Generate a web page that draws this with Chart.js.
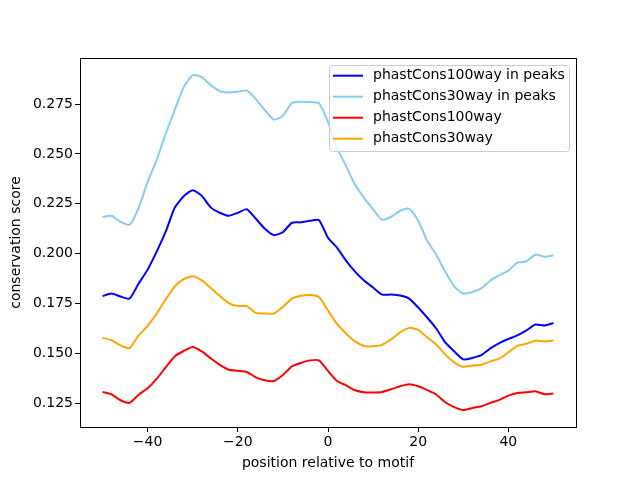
<!DOCTYPE html>
<html>
<head>
<meta charset="utf-8">
<script src="https://cdn.jsdelivr.net/npm/chart.js@4/dist/chart.umd.min.js"></script>
<style>
html,body{margin:0;padding:0;background:#fff;}
#wrap{width:640px;height:480px;}
</style>
</head>
<body>
<div id="wrap"><canvas id="c" width="640" height="480"></canvas></div>
<script>
const positions = [-50,-48,-46,-44,-42,-40,-38,-36,-34,-32,-30,-28,-26,-24,-22,-20,-18,-16,-14,-12,-10,-8,-6,-4,-2,0,2,4,6,8,10,12,14,16,18,20,22,24,26,28,30,32,34,36,38,40,42,44,46,48,50];
const xTicks = [-40,-20,0,20,40];
const yTicks = [0.125,0.150,0.175,0.200,0.225,0.250,0.275];
const seriesNames = ['phastCons100way in peaks','phastCons30way in peaks','phastCons100way','phastCons30way'];
const seriesColors = ['#0000ff','#87ceeb','#ff0000','#ffa500'];

const cons100Peaks = [0.1787,0.1800,0.1785,0.1775,0.1850,0.1920,0.2010,0.2110,0.2230,0.2288,0.2318,0.2290,0.2232,0.2205,0.2190,0.2205,0.2223,0.2175,0.2125,0.2093,0.2108,0.2155,0.2157,0.2165,0.2168,0.2080,0.2030,0.1965,0.1910,0.1865,0.1830,0.1795,0.1795,0.1790,0.1775,0.1730,0.1680,0.1625,0.1555,0.1510,0.1470,0.1477,0.1491,0.1525,0.1552,0.1572,0.1590,0.1615,0.1645,0.1640,0.1652];
const cons30Peaks = [0.2185,0.2190,0.2160,0.2145,0.2230,0.2360,0.2470,0.2600,0.2720,0.2835,0.2895,0.2885,0.2845,0.2815,0.2808,0.2812,0.2818,0.2775,0.2720,0.2672,0.2692,0.2755,0.2762,0.2760,0.2755,0.2660,0.2530,0.2440,0.2345,0.2280,0.2222,0.2170,0.2185,0.2215,0.2225,0.2165,0.2065,0.1995,0.1910,0.1835,0.1800,0.1808,0.1826,0.1865,0.1892,0.1915,0.1955,0.1962,0.1995,0.1985,0.1992];
const cons100 = [0.1307,0.1295,0.1265,0.1252,0.1293,0.1325,0.1372,0.1430,0.1485,0.1512,0.1532,0.1510,0.1475,0.1442,0.1418,0.1413,0.1407,0.1380,0.1365,0.1362,0.1392,0.1435,0.1452,0.1465,0.1465,0.1412,0.1362,0.1340,0.1315,0.1305,0.1304,0.1307,0.1320,0.1335,0.1345,0.1335,0.1316,0.1294,0.1255,0.1231,0.1216,0.1226,0.1235,0.1252,0.1267,0.1288,0.1302,0.1305,0.1310,0.1295,0.1299];
const cons30 = [0.1578,0.1566,0.1540,0.1527,0.1590,0.1638,0.1700,0.1770,0.1835,0.1872,0.1887,0.1866,0.1828,0.1788,0.1752,0.1737,0.1737,0.1703,0.1700,0.1700,0.1733,0.1775,0.1789,0.1793,0.1783,0.1715,0.1648,0.1600,0.1560,0.1537,0.1536,0.1543,0.1570,0.1605,0.1628,0.1618,0.1580,0.1545,0.1495,0.1455,0.1433,0.1439,0.1443,0.1460,0.1474,0.1505,0.1538,0.1548,0.1564,0.1560,0.1565];

const allSeries = [cons100Peaks, cons30Peaks, cons100, cons30];
const FONT = 'DejaVu Sans';

const datasets = allSeries.map((s, i) => ({
  label: seriesNames[i],
  data: positions.map((x, j) => ({x: x, y: s[j]})),
  borderColor: seriesColors[i],
  backgroundColor: seriesColors[i],
  borderWidth: 2,
  pointRadius: 0,
  tension: 0.2,
  fill: false
}));

const framePlugin = {
  id: 'frame',
  afterDraw(chart) {
    const ctx = chart.ctx;
    const a = chart.chartArea;
    ctx.save();
    ctx.strokeStyle = '#000';
    ctx.lineWidth = 1;
    ctx.strokeRect(Math.round(a.left) + 0.5, Math.round(a.top) + 0.5, Math.round(a.right - a.left), Math.round(a.bottom - a.top));
    const lx = 329.5, ly = 65.5, lw = 240, lh = 86;
    ctx.fillStyle = 'rgba(255,255,255,0.8)';
    ctx.strokeStyle = '#cccccc';
    ctx.beginPath();
    if (ctx.roundRect) ctx.roundRect(lx, ly, lw, lh, 3); else ctx.rect(lx, ly, lw, lh);
    ctx.fill();
    ctx.stroke();
    ctx.font = '14px "' + FONT + '"';
    ctx.textBaseline = 'middle';
    ctx.textAlign = 'left';
    for (let i = 0; i < seriesNames.length; i++) {
      const y = 75.7 + i * 21;
      ctx.strokeStyle = seriesColors[i];
      ctx.lineWidth = 2;
      ctx.beginPath();
      ctx.moveTo(333, y);
      ctx.lineTo(363, y);
      ctx.stroke();
      ctx.fillStyle = '#000';
      ctx.fillText(seriesNames[i], 373, y);
    }
    ctx.restore();
  }
};

new Chart(document.getElementById('c'), {
  type: 'line',
  data: { datasets: datasets },
  plugins: [framePlugin],
  options: {
    responsive: false,
    animation: false,
    devicePixelRatio: 1,
    layout: { padding: { left: 0, right: 64, top: 58, bottom: 0 } },
    plugins: { legend: { display: false }, tooltip: { enabled: false } },
    scales: {
      x: {
        type: 'linear',
        min: -55, max: 55,
        afterBuildTicks: (s) => { s.ticks = xTicks.map(v => ({value: v})); },
        afterFit: (s) => { s.height = 53; },
        grid: { display: true, drawOnChartArea: false, tickLength: 5, tickColor: '#000', tickWidth: 1 },
        border: { display: false },
        ticks: {
          color: '#000', padding: 2, maxRotation: 0,
          font: { family: FONT, size: 14 },
          callback: (v) => String(v).replace('-', '\u2212')
        },
        title: { display: true, text: 'position relative to motif', color: '#000',
          font: { family: FONT, size: 14 }, padding: { top: 0, bottom: 8 } }
      },
      y: {
        type: 'linear',
        min: 0.1131, max: 0.2981,
        afterBuildTicks: (s) => { s.ticks = yTicks.map(v => ({value: v})); },
        afterFit: (s) => { s.width = 80; },
        grid: { display: true, drawOnChartArea: false, tickLength: 5, tickColor: '#000', tickWidth: 1 },
        border: { display: false },
        ticks: {
          color: '#000', padding: 2,
          font: { family: FONT, size: 14 },
          callback: (v) => Number(v).toFixed(3)
        },
        title: { display: true, text: 'conservation score', color: '#000',
          font: { family: FONT, size: 14 }, padding: { top: 8, bottom: 0 } }
      }
    }
  }
});
</script>
</body>
</html>
